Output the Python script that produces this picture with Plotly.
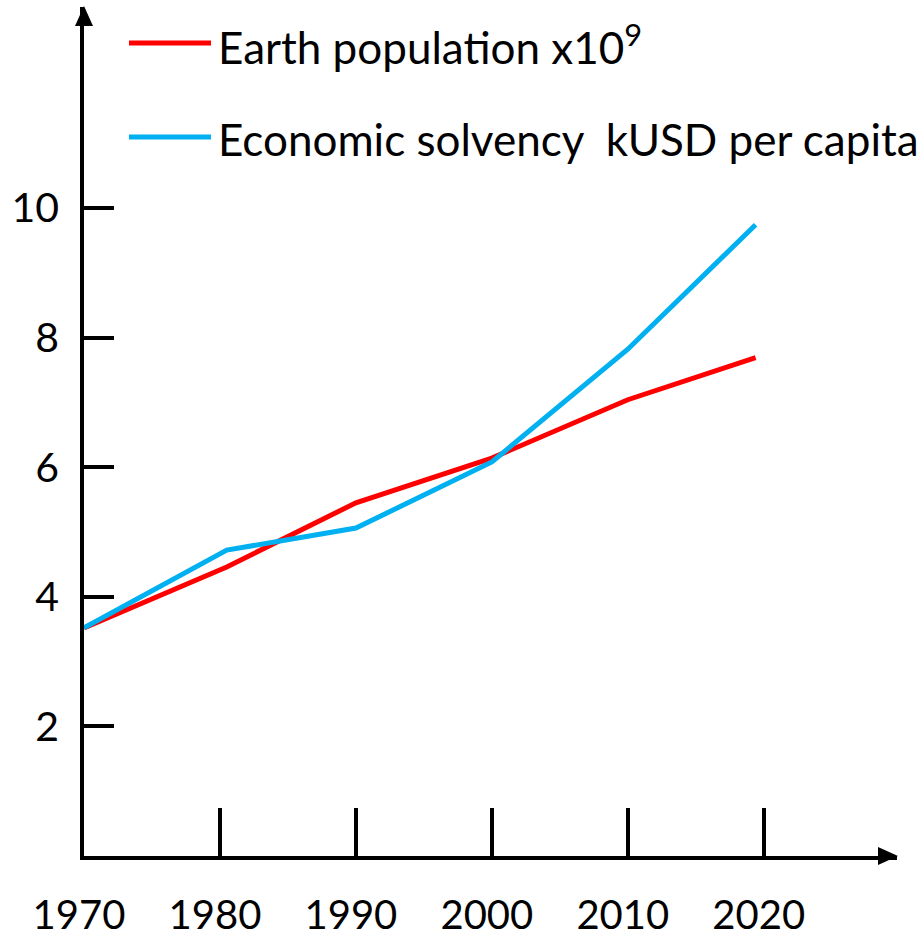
import plotly.graph_objects as go

# values
years = [1970, 1980.5, 1990, 2000, 2010, 2019.4]
population = [3.52, 4.46, 5.45, 6.14, 7.04, 7.69]
solvency = [3.52, 4.72, 5.06, 6.08, 7.82, 9.74]

x_ticks = [1970, 1980, 1990, 2000, 2010, 2020]
y_ticks = [2, 4, 6, 8, 10]

FONT = "Lato"
RED = "#FF0000"
BLUE = "#00B0F0"

# plot area in pixels (origin of the axes at 84, 856)
L, T, R, B = 84, 7, 26, 81
W, H = 923 - L - R, 937 - T - B


def px(x):
    return (x - L) / W


def py(y):
    return (937 - B - y) / H


fig = go.Figure()
fig.add_trace(go.Scatter(x=years, y=population, mode="lines", name="Earth population x10<sup>9</sup>",
                         line=dict(color=RED, width=5)))
fig.add_trace(go.Scatter(x=years, y=solvency, mode="lines", name="Economic solvency  kUSD per capita",
                         line=dict(color=BLUE, width=5)))

x_max = 2029.8
y_max = 13.1

fig.update_xaxes(range=[1970, x_max], tickvals=x_ticks, ticktext=[str(t) for t in x_ticks],
                 showline=True, linecolor="black", linewidth=3.5, showgrid=False, zeroline=False,
                 ticks="inside", ticklen=48, tickwidth=3.5, tickcolor="black", automargin=False,
                 ticklabelstandoff=21, ticklabelshift=-5,
                 tickfont=dict(family=FONT, size=40, color="black"))
fig.update_yaxes(range=[0, y_max], tickvals=y_ticks,
                 showline=True, linecolor="black", linewidth=3.5, showgrid=False, zeroline=False,
                 ticks="inside", ticklen=30, tickwidth=3.5, tickcolor="black", automargin=False,
                 ticklabelstandoff=13, tickfont=dict(family=FONT, size=41, color="black"))

# arrow heads at the ends of the axes
fig.add_shape(type="path", xref="paper", yref="paper", fillcolor="black", line=dict(width=0),
              path=f"M {px(84)} {py(6)} L {px(75)} {py(26)} L {px(93)} {py(26)} Z")
fig.add_shape(type="path", xref="paper", yref="paper", fillcolor="black", line=dict(width=0),
              path=f"M {px(898)} {py(856)} L {px(878)} {py(847)} L {px(878)} {py(865)} Z")

# hand-made legend
legend_rows = [(RED, fig.data[0].name, 43), (BLUE, fig.data[1].name, 137)]
for color, label, ly in legend_rows:
    fig.add_shape(type="line", xref="paper", yref="paper",
                  x0=px(129), x1=px(211), y0=py(ly), y1=py(ly),
                  line=dict(color=color, width=5))
    fig.add_annotation(x=px(216), y=py(ly + 2), xref="paper", yref="paper",
                       text=label.replace("  ", "\u00a0 "), showarrow=False, xanchor="left",
                       yanchor="middle", font=dict(family=FONT, size=44, color="black"))

fig.update_layout(width=923, height=937, showlegend=False,
                  margin=dict(l=L, r=R, t=T, b=B),
                  plot_bgcolor="white", paper_bgcolor="white")

fig.write_html("out.html", config={"displayModeBar": False},
               post_script="document.body.style.margin = '0';")
